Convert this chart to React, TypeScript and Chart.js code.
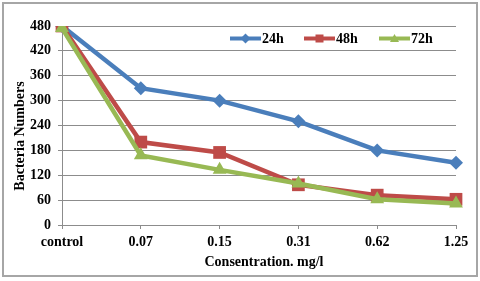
import { useEffect, useRef } from "react";
import { Chart, registerables } from "chart.js";
Chart.register(...registerables);

const categories = ["control", "0.07", "0.15", "0.31", "0.62", "1.25"];
const series24h = [480, 330, 300, 250, 180, 150];
const series48h = [480, 200, 175, 97, 72, 62];
const series72h = [475, 168, 133, 100, 62, 52];
const seriesNames = ["24h", "48h", "72h"];
const yTicks = [0, 60, 120, 180, 240, 300, 360, 420, 480];
const xTitle = "Consentration. mg/l";
const yTitle = "Bacteria Numbers";

const BLUE = "#4A7EBB";
const RED = "#BE4B48";
const GREEN = "#98B954";
const FONT = "'Liberation Serif', 'Times New Roman', serif";

export default function App() {
  const ref = useRef<HTMLCanvasElement | null>(null);
  useEffect(() => {
    if (!ref.current) return;
    const legendPlugin = {
      id: "customLegend",
      beforeDraw(chart: any) {
        const ctx = chart.ctx;
        ctx.save();
        ctx.fillStyle = "#ffffff";
        ctx.fillRect(0, 0, chart.width, chart.height);
        ctx.restore();
      },
      afterDraw(chart: any) {
        const ctx = chart.ctx;
        ctx.save();
        ctx.strokeStyle = "#A6A6A6";
        ctx.lineWidth = 2;
        ctx.strokeRect(3, 3, 474, 273);
        // axis titles
        ctx.fillStyle = "#000";
        ctx.font = `bold 14px ${FONT}`;
        ctx.textAlign = "center";
        ctx.textBaseline = "middle";
        ctx.fillText(xTitle, 264, 262);
        ctx.save();
        ctx.translate(20, 136);
        ctx.rotate(-Math.PI / 2);
        ctx.fillText(yTitle, 0, 0);
        ctx.restore();
        const items = [
          { x: 230, color: BLUE, style: "diamond" },
          { x: 304, color: RED, style: "square" },
          { x: 379, color: GREEN, style: "triangle" },
        ];
        const y = 38.5;
        items.forEach((it, i) => {
          ctx.strokeStyle = it.color;
          ctx.fillStyle = it.color;
          ctx.lineWidth = 4;
          ctx.beginPath();
          ctx.moveTo(it.x, y);
          ctx.lineTo(it.x + 31, y);
          ctx.stroke();
          const cx = it.x + 15.5;
          ctx.beginPath();
          if (it.style === "diamond") {
            ctx.moveTo(cx - 5, y);
            ctx.lineTo(cx, y - 5);
            ctx.lineTo(cx + 5, y);
            ctx.lineTo(cx, y + 5);
            ctx.closePath();
          } else if (it.style === "square") {
            ctx.rect(cx - 4, y - 4, 8, 8);
          } else {
            ctx.moveTo(cx - 4.5, y + 3.5);
            ctx.lineTo(cx, y - 4.5);
            ctx.lineTo(cx + 4.5, y + 3.5);
            ctx.closePath();
          }
          ctx.fill();
          ctx.fillStyle = "#000";
          ctx.font = `bold 14px ${FONT}`;
          ctx.textBaseline = "middle";
          ctx.textAlign = "left";
          ctx.fillText(seriesNames[i], it.x + 32, y + 1);
        });
        ctx.restore();
      },
    };

    const chart = new Chart(ref.current, {
      type: "line",
      data: {
        labels: categories,
        datasets: [
          {
            label: seriesNames[0],
            data: series24h,
            borderColor: BLUE,
            backgroundColor: BLUE,
            borderWidth: 4.5,
            pointStyle: "rectRot",
            pointRadius: 7,
            pointBorderWidth: 0,
            order: 3,
          },
          {
            label: seriesNames[1],
            data: series48h,
            borderColor: RED,
            backgroundColor: RED,
            borderWidth: 4.5,
            pointStyle: "rect",
            pointRadius: 9,
            pointBorderWidth: 0,
            order: 2,
          },
          {
            label: seriesNames[2],
            data: series72h,
            borderColor: GREEN,
            backgroundColor: GREEN,
            borderWidth: 4.5,
            pointStyle: "triangle",
            pointRadius: 8,
            pointBorderWidth: 0,
            order: 1,
          },
        ],
      },
      options: {
        animation: false,
        responsive: false,
        maintainAspectRatio: false,
        layout: { padding: { top: 26, right: 24, left: 0, bottom: 0 } },
        plugins: { legend: { display: false }, tooltip: { enabled: false } },
        scales: {
          x: {
            offset: false,
            grid: {
              drawOnChartArea: false,
              drawTicks: true,
              tickLength: 4,
              color: "#8C8C8C",
            },
            border: { color: "#8C8C8C" },
            ticks: {
              color: "#000",
              font: { family: FONT, size: 14, weight: "bold" },
              padding: 5,
              maxRotation: 0,
              autoSkip: false,
            },
            afterFit(scale: any) {
              scale.height = 56;
            },
          },
          y: {
            min: 0,
            max: 480,
            afterBuildTicks(scale: any) {
              scale.ticks = yTicks.map((v) => ({ value: v }));
            },
            grid: {
              color: "#8C8C8C",
              tickLength: 4,
            },
            border: { color: "#8C8C8C" },
            ticks: {
              color: "#000",
              font: { family: FONT, size: 14, weight: "bold" },
              padding: 7,
            },
            afterFit(scale: any) {
              scale.width = 62;
            },
          },
        },
      },
      plugins: [legendPlugin],
    });
    return () => chart.destroy();
  }, []);

  return (
    <div style={{ position: "absolute", left: 0, top: 0, width: 480, height: 281 }}>
      <canvas ref={ref} width={480} height={281} style={{ width: 480, height: 281 }} />
    </div>
  );
}
